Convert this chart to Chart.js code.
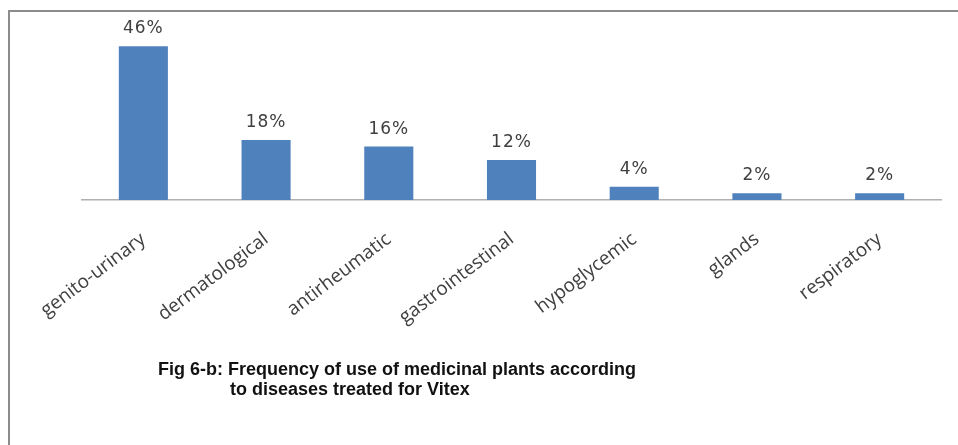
<!DOCTYPE html>
<html>
<head>
<meta charset="utf-8">
<script src="https://cdn.jsdelivr.net/npm/chart.js@4/dist/chart.umd.min.js"></script>
<style>
  html, body { margin: 0; padding: 0; background: #fff; }
  #wrap { position: relative; width: 958px; height: 445px; overflow: hidden; }
  #c { position: absolute; left: 0; top: 0; }
  .bt { position: absolute; left: 8px; top: 10px; width: 950px; height: 2px; background: #8c8c8c; }
  .bl { position: absolute; left: 8px; top: 10px; width: 2px; height: 435px; background: #8c8c8c; }
  .title { position: absolute; font-family: "Liberation Sans", Arial, sans-serif; font-weight: bold; font-size: 18px; color: #111; white-space: nowrap; letter-spacing: 0px; line-height: 20px; }
</style>
</head>
<body>
<div id="wrap">
  <canvas id="c" width="958" height="445"></canvas>
  <div class="bt"></div>
  <div class="bl"></div>
  <div class="title" style="left:158px; top:359px;">Fig 6-b: Frequency of use of medicinal plants according</div>
  <div class="title" style="left:230px; top:379px;">to diseases treated for Vitex</div>
</div>
<script>
const categories = ["genito-urinary", "dermatological", "antirheumatic", "gastrointestinal", "hypoglycemic", "glands", "respiratory"];
const percentValues = [46, 18, 16, 12, 4, 2, 2];
const valueLabels = ["46%", "18%", "16%", "12%", "4%", "2%", "2%"];

const valueLabelPlugin = {
  id: 'valueLabels',
  afterDatasetsDraw(chart) {
    const ctx = chart.ctx;
    const meta = chart.getDatasetMeta(0);
    ctx.save();
    ctx.font = '17px "DejaVu Sans", sans-serif';
    ctx.fillStyle = '#404040';
    ctx.textAlign = 'center';
    ctx.textBaseline = 'alphabetic';
    try { ctx.letterSpacing = '1px'; } catch (e) {}
    meta.data.forEach((bar, i) => {
      ctx.fillText(valueLabels[i], bar.x, bar.y - 13);
    });
    ctx.restore();
  }
};

new Chart(document.getElementById('c'), {
  type: 'bar',
  data: {
    labels: categories,
    datasets: [{
      data: percentValues,
      backgroundColor: '#4f81bd',
      borderWidth: 0,
      barPercentage: 0.8,
      categoryPercentage: 0.5
    }]
  },
  options: {
    responsive: false,
    animation: false,
    layout: { padding: { left: 82, right: 17, top: 33, bottom: 0 } },
    plugins: { legend: { display: false }, tooltip: { enabled: false } },
    scales: {
      y: { display: false, min: 0, max: 50 },
      x: {
        grid: { display: false },
        border: { display: true, color: '#b0b0b0', width: 1.5 },
        ticks: {
          color: '#404040',
          font: { family: '"Open Sans", sans-serif', size: 19 },
          minRotation: 37,
          maxRotation: 37,
          padding: 20,
          autoSkip: false
        },
        afterFit(scale) { scale.height = 245; }
      }
    }
  },
  plugins: [valueLabelPlugin]
});
</script>
</body>
</html>
